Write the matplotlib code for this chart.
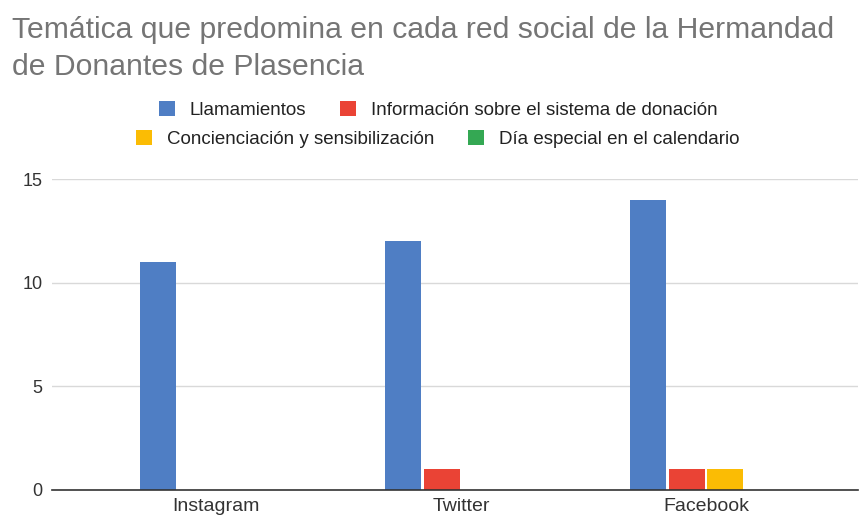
import numpy as np
import matplotlib
matplotlib.use("Agg")
import matplotlib.pyplot as plt
from matplotlib.patches import Patch

plt.rcParams['font.family'] = ['Liberation Sans', 'DejaVu Sans']

redes = ["Instagram", "Twitter", "Facebook"]
series = ["Llamamientos", "Información sobre el sistema de donación",
          "Concienciación y sensibilización", "Día especial en el calendario"]
llamamientos = [11, 12, 14]
informacion = [0, 1, 1]
concienciacion = [0, 0, 1]
dia_especial = [0, 0, 0]
colores = ["#4f7ec4", "#ea4335", "#fbbc04", "#34a853"]
y_ticks = [0, 5, 10, 15]

valores = [llamamientos, informacion, concienciacion, dia_especial]

fig = plt.figure(figsize=(8.61, 5.17), dpi=100)
ax = fig.add_axes([52/861, 1-490/517, 806/861, 311/517])

x = np.arange(len(redes))
paso = 0.158
ancho = 0.147
for i, (vals, col) in enumerate(zip(valores, colores)):
    ax.bar(x + (i - 1.5)*paso, vals, width=ancho, color=col, linewidth=0, zorder=3)

ax.set_xlim(-0.669, 2.62)
ax.set_ylim(0, 15)
ax.set_yticks(y_ticks)
ax.set_xticks(x)
ax.set_xticklabels(redes)
ax.grid(axis='y', color='#d9d9d9', linewidth=1, zorder=0)
for s in ['top', 'right', 'left']:
    ax.spines[s].set_visible(False)
ax.spines['bottom'].set_color('#333333')
ax.spines['bottom'].set_linewidth(1.2)
ax.spines['bottom'].set_zorder(4)
ax.tick_params(axis='both', length=0, labelcolor='#333333')
ax.tick_params(axis='y', pad=7, labelsize=13)
ax.tick_params(axis='x', pad=6, labelsize=14)

fig.text(12/861, 1-30/517, "Temática que predomina en cada red social de la Hermandad",
         fontsize=21.7, color='#757575', va='center', ha='left')
fig.text(12/861, 1-67/517, "de Donantes de Plasencia",
         fontsize=21.7, color='#757575', va='center', ha='left')

filas = [(0, 1, 110), (2, 3, 139)]
for a, b, yy in filas:
    handles = [Patch(facecolor=colores[k], edgecolor='none') for k in (a, b)]
    leg = fig.legend(handles, [series[a], series[b]], ncol=2, loc='center',
                     bbox_to_anchor=(438/861, 1-yy/517), frameon=False,
                     fontsize=13.5, handlelength=0.85, handleheight=0.85,
                     handletextpad=0.8, columnspacing=1.8, borderpad=0)
    for t in leg.get_texts():
        t.set_color('#222222')

fig.savefig("out.png", dpi=100)
